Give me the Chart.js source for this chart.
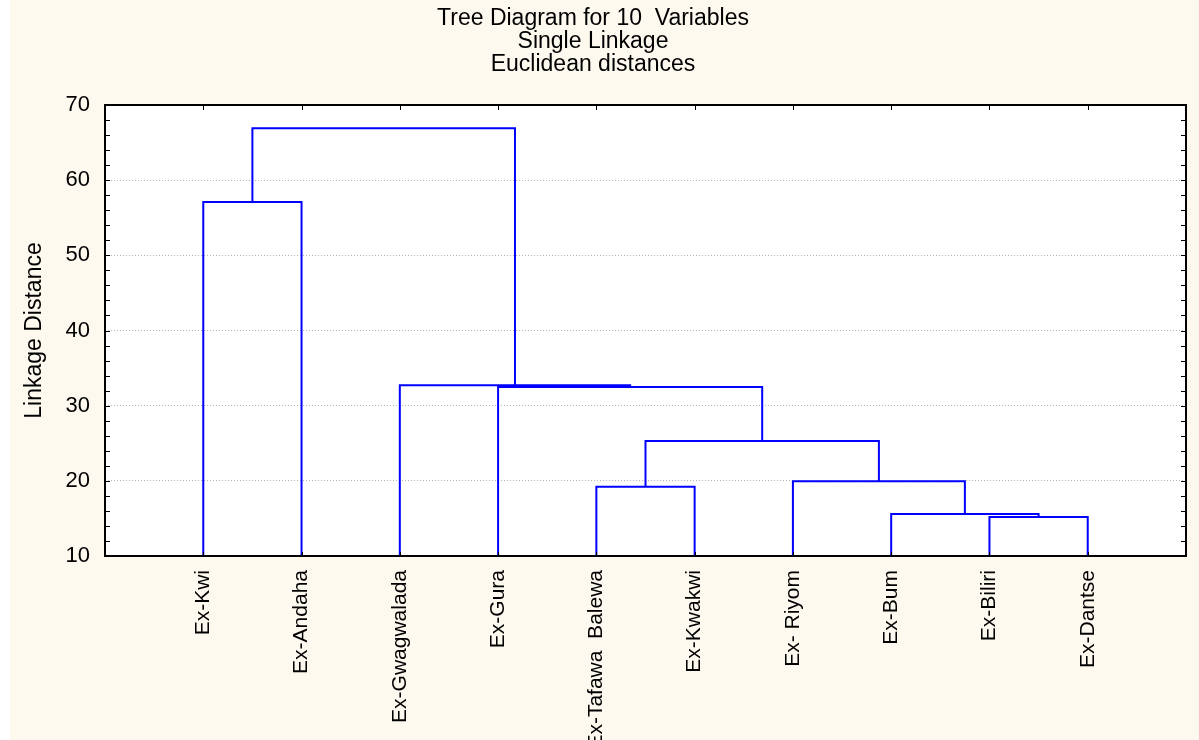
<!DOCTYPE html>
<html>
<head>
<meta charset="utf-8">
<script src="https://cdn.jsdelivr.net/npm/chart.js@4.4.1/dist/chart.umd.min.js"></script>
<style>
  html, body { margin: 0; padding: 0; background: #fff; }
  #wrap { width: 1199px; height: 740px; }
</style>
</head>
<body>
<div id="wrap"><canvas id="chart" width="1199" height="740"></canvas></div>
<script>
// leaves in dendrogram order (left to right)
const leafLabels = ['Ex-Kwi', 'Ex-Andaha', 'Ex-Gwagwalada', 'Ex-Gura', 'Ex-Tafawa  Balewa',
  'Ex-Kwakwi', 'Ex- Riyom', 'Ex-Bum', 'Ex-Biliri', 'Ex-Dantse'];

// merges: index < 10 is a leaf, index >= 10 is the cluster made by merge (index - 10)
const mergeLeft = [8, 7, 4, 6, 12, 3, 2, 0, 17];
const mergeRight = [9, 10, 5, 11, 13, 14, 15, 1, 16];
const mergeHeight = [15.2, 15.6, 19.2, 19.95, 25.3, 32.5, 32.7, 57.1, 66.9];

const yTicks = [10, 20, 30, 40, 50, 60, 70];
const titleLines = ['Tree Diagram for 10  Variables', 'Single Linkage', 'Euclidean distances'];

const FONT = "'Liberation Sans', Arial, sans-serif";
const BLUE = '#0000ff';
const CREAM = '#fdf9ef';

// x position / base height of every node (leaf positions 1..10)
function nodeInfo(idx) {
  if (idx < leafLabels.length) return { x: idx + 1, y: yTicks[0] };
  const m = idx - leafLabels.length;
  const a = nodeInfo(mergeLeft[m]);
  const b = nodeInfo(mergeRight[m]);
  return { x: (a.x + b.x) / 2, y: mergeHeight[m] };
}

const datasets = mergeHeight.map((h, m) => {
  const a = nodeInfo(mergeLeft[m]);
  const b = nodeInfo(mergeRight[m]);
  return {
    data: [{ x: a.x, y: a.y }, { x: a.x, y: h }, { x: b.x, y: h }, { x: b.x, y: b.y }],
    borderColor: BLUE,
    borderWidth: 2,
    pointRadius: 0,
    tension: 0,
    fill: false,
  };
});

const frame = {
  id: 'frame',
  beforeDraw(chart) {
    const { ctx, chartArea: a } = chart;
    ctx.save();
    ctx.fillStyle = CREAM;
    ctx.fillRect(0, 0, chart.width, chart.height);
    ctx.fillStyle = '#fff';
    ctx.fillRect(0, 0, 10, chart.height);
    ctx.fillRect(a.left, a.top, a.right - a.left, a.bottom - a.top);
    ctx.restore();
  },
  afterDraw(chart) {
    const { ctx, chartArea: a, scales } = chart;
    ctx.save();
    ctx.strokeStyle = '#000';
    ctx.lineWidth = 1;
    ctx.beginPath();
    for (let v = yTicks[0]; v <= yTicks[yTicks.length - 1]; v += 2) {
      const y = Math.round(scales.y.getPixelForValue(v)) + 0.5;
      ctx.moveTo(a.left, y); ctx.lineTo(a.left + 5, y);
      ctx.moveTo(a.right - 5, y); ctx.lineTo(a.right, y);
    }
    leafLabels.forEach((_, i) => {
      const x = Math.round(scales.x.getPixelForValue(i + 1)) + 0.5;
      ctx.moveTo(x, a.top); ctx.lineTo(x, a.top + 5);
      ctx.moveTo(x, a.bottom); ctx.lineTo(x, a.bottom - 4);
    });
    ctx.stroke();
    ctx.lineWidth = 2;
    ctx.strokeRect(a.left, a.top, a.right - a.left, a.bottom - a.top);
    ctx.restore();
  },
};

new Chart(document.getElementById('chart'), {
  type: 'line',
  data: { datasets },
  options: {
    responsive: false,
    animation: false,
    layout: { padding: { left: 0, right: 13, top: 0, bottom: 0 } },
    plugins: {
      legend: { display: false },
      tooltip: { enabled: false },
      title: {
        display: true,
        text: titleLines,
        color: '#000',
        font: { family: FONT, size: 23, weight: 'normal', lineHeight: 1.0 },
        padding: { top: 7, bottom: 29 },
      },
    },
    scales: {
      x: {
        type: 'linear',
        min: 0,
        max: leafLabels.length + 1,
        grid: { display: false, drawTicks: false },
        border: { display: false },
        ticks: {
          stepSize: 1,
          autoSkip: false,
          minRotation: 90,
          maxRotation: 90,
          padding: 14,
          color: '#000',
          font: { family: FONT, size: 21 },
          callback: v => leafLabels[v - 1] || '',
        },
        afterFit: s => { s.height = 184; s.paddingLeft = 0; s.paddingRight = 0; },
      },
      y: {
        min: yTicks[0],
        max: yTicks[yTicks.length - 1],
        grid: { color: '#b4b4b4', drawTicks: false },
        border: { display: false, dash: [1, 2] },
        ticks: {
          stepSize: 10,
          padding: 15,
          color: '#000',
          font: { family: FONT, size: 22 },
        },
        title: {
          display: true,
          text: 'Linkage Distance',
          color: '#000',
          font: { family: FONT, size: 23 },
          padding: { top: 21, bottom: 0 },
        },
        afterFit: s => { s.width = 105; },
      },
    },
  },
  plugins: [frame],
});
</script>
</body>
</html>
